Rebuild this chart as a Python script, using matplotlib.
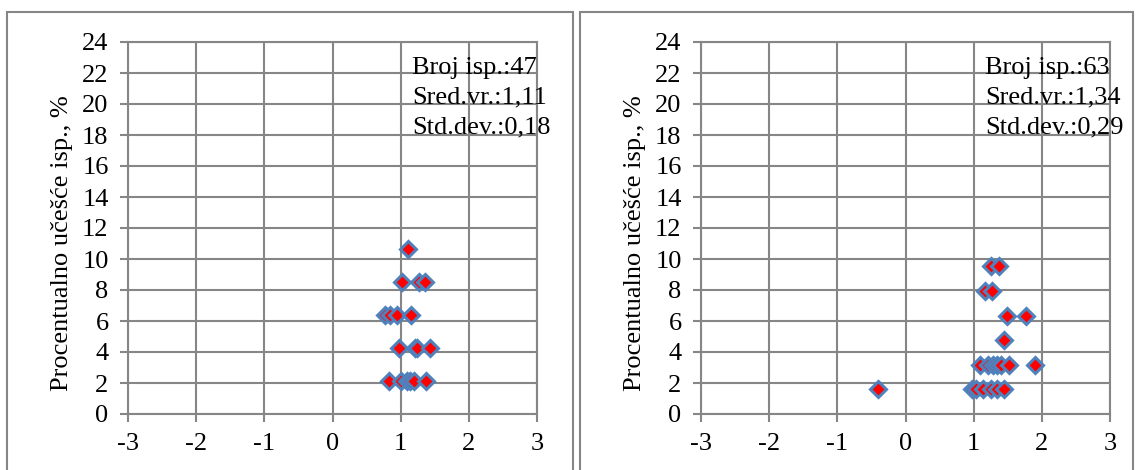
import matplotlib
matplotlib.use("Agg")
import matplotlib.pyplot as plt
from matplotlib.patches import Rectangle

plt.rcParams['font.family'] = ['Liberation Serif', 'DejaVu Serif']
plt.rcParams['axes.unicode_minus'] = False

# left chart data (x value, percent of samples)
x_left = [1.11,
          1.02, 1.27, 1.35,
          0.77, 0.85, 0.94, 1.15,
          0.97, 1.21, 1.24, 1.43,
          0.83, 1.01, 1.10, 1.13, 1.19, 1.37]
y_left = [10.64,
          8.51, 8.51, 8.51,
          6.38, 6.38, 6.38, 6.38,
          4.26, 4.26, 4.26, 4.26,
          2.13, 2.13, 2.13, 2.13, 2.13, 2.13]

# right chart data
x_right = [1.26, 1.37,
           1.16, 1.27,
           1.49, 1.77,
           1.45,
           1.09, 1.21, 1.29, 1.34, 1.40, 1.52, 1.90,
           -0.40, 0.97, 1.04, 1.13, 1.26, 1.34, 1.45]
y_right = [9.52, 9.52,
           7.94, 7.94,
           6.35, 6.35,
           4.76,
           3.17, 3.17, 3.17, 3.17, 3.17, 3.17, 3.17,
           1.59, 1.59, 1.59, 1.59, 1.59, 1.59, 1.59]

stats_left = ["Broj isp.:47", "Sred.vr.:1,11", "Std.dev.:0,18"]
stats_right = ["Broj isp.:63", "Sred.vr.:1,34", "Std.dev.:0,29"]
ylabel = "Procentualno učešće isp., %"

W, H = 1136, 470
fig = plt.figure(figsize=(W / 100, H / 100), dpi=100)
fig.patch.set_facecolor('white')

grid_c = '#868686'
fs = 19

# chart area borders (bottom edge is cut off)
for x0, x1 in [(7, 573), (580, 1133)]:
    fig.patches.append(Rectangle((x0 / W, -0.05), (x1 - x0) / W, (H - 12) / H + 0.05,
                                 transform=fig.transFigure, fill=False,
                                 edgecolor=grid_c, linewidth=1.5))

def draw(left_px, xs, ys, stats):
    ax = fig.add_axes([left_px / W, (H - 414) / H, 409 / W, 372 / H])
    ax.set_xlim(-3, 3)
    ax.set_ylim(0, 24)
    ax.set_xticks(range(-3, 4))
    ax.set_yticks(range(0, 25, 2))
    ax.grid(True, color=grid_c, linewidth=1.5)
    ax.set_axisbelow(True)
    for s in ax.spines.values():
        s.set_color(grid_c)
        s.set_linewidth(1.5)
    ax.tick_params(direction='out', length=6, width=1.5, color=grid_c,
                   labelsize=fs, pad=8)
    ax.plot(xs, ys, linestyle='none', marker='D', markersize=8.5,
            markerfacecolor='red', markeredgecolor='#4F81BD', markeredgewidth=2.2)
    ax.set_ylabel(ylabel, fontsize=fs)
    ax.yaxis.set_label_coords(-0.135, 0.46)
    for i, t in enumerate(stats):
        ax.text(1.17, 22.3 - i * 1.9, t, fontsize=fs, va='center', ha='left')
    return ax

draw(128, x_left, y_left, stats_left)
draw(701, x_right, y_right, stats_right)

fig.savefig('out.png', dpi=100)
